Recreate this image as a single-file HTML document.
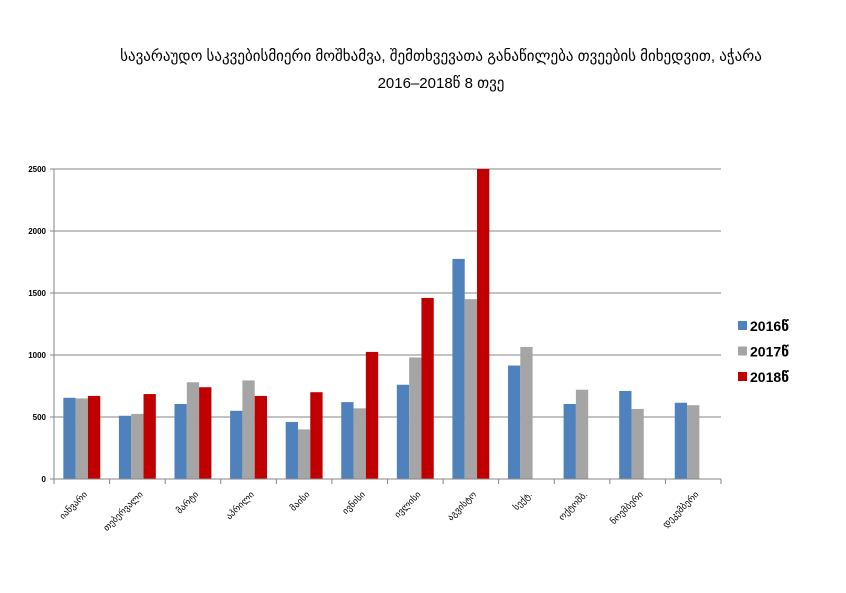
<!DOCTYPE html>
<html><head><meta charset="utf-8">
<style>
body{margin:0;background:#fff;}
svg text{font-family:"Liberation Sans","DejaVu Sans",sans-serif;}
</style></head>
<body>
<svg width="846" height="588" viewBox="0 0 846 588" xmlns="http://www.w3.org/2000/svg">
<rect width="846" height="588" fill="#fff"/>
<text x="441" y="61" text-anchor="middle" font-size="15" fill="#000">სავარაუდო  საკვებისმიერი მოშხამვა, შემთხვევათა განაწილება თვეების მიხედვით, აჭარა</text>
<text x="441" y="88" text-anchor="middle" font-size="15" fill="#000">2016–2018წ 8 თვე</text>
<g id="grid"></g>
<g id="bars"></g>
<g id="axes"></g>
<g id="legend"></g>
</svg>
<script>
const categories=["იანვარი","თებერვალი","მარტი","აპრილი","მაისი","ივნისი","ივლისი","აგვისტო","სექტ.","ოქტომბ.","ნოემბერი","დეკემბერი"];
const s2016=[655,510,605,550,460,620,760,1775,915,605,710,615];
const s2017=[650,525,780,795,400,570,980,1450,1065,720,565,595];
const s2018=[670,685,740,670,700,1025,1460,2500,null,null,null,null];
const seriesNames=["2016წ","2017წ","2018წ"];
const yTicks=[0,500,1000,1500,2000,2500];
const NS="http://www.w3.org/2000/svg";
const X0=54,W=667,Y0=479,YT=169,YMAX=2500;
const colors=["#4f81bd","#a5a5a5","#c00000"];
const band=W/categories.length;
const y=v=>Y0-(v/YMAX)*(Y0-YT);
const mk=(t,a,p)=>{const e=document.createElementNS(NS,t);for(const k in a)e.setAttribute(k,a[k]);p.appendChild(e);return e;};
const grid=document.getElementById('grid'),bars=document.getElementById('bars'),axes=document.getElementById('axes'),leg=document.getElementById('legend');
yTicks.forEach(t=>{
 if(t>0){const l=mk('line',{x1:X0,x2:X0+W,y1:y(t),y2:y(t),stroke:'#868686','stroke-width':1},grid);
 
 }
 const tx=mk('text',{x:X0-8,y:y(t)+3,'text-anchor':'end','font-size':8,'font-weight':'bold'},axes);
 tx.textContent=t;
 
 
 mk('line',{x1:X0-4,x2:X0,y1:y(t),y2:y(t),stroke:'#868686'},axes);
});
const series=[s2016,s2017,s2018];
const bw=12.3;
categories.forEach((c,i)=>{
 const gx=X0+i*band+(band-3*bw)/2;
 series.forEach((s,j)=>{
  if(s[i]==null)return;
  const r=mk('rect',{x:gx+j*bw,y:y(s[i]),width:bw,height:Y0-y(s[i]),fill:colors[j]},bars);
  
  
 });
 mk('line',{x1:X0+i*band,x2:X0+i*band,y1:Y0,y2:Y0+5,stroke:'#868686'},axes);
 const cx=X0+i*band+band/2+6;
 const t=mk('text',{x:cx,y:Y0+16,'text-anchor':'end','font-size':9,transform:`rotate(-45 ${cx} ${Y0+16})`},axes);
 t.textContent=c;
 
 
});
mk('line',{x1:X0+W,x2:X0+W,y1:Y0,y2:Y0+5,stroke:'#868686'},axes);
const ax=mk('line',{x1:X0,x2:X0,y1:YT,y2:Y0,stroke:'#868686'},axes);


const bx=mk('line',{x1:X0,x2:X0+W,y1:Y0,y2:Y0,stroke:'#868686'},axes);


seriesNames.forEach((n,j)=>{
 const cy=326+j*25.5;
 const g=mk('g',{},leg);
 
 
 mk('rect',{x:738,y:cy-5,width:9,height:9,fill:colors[j]},g);
 const t=mk('text',{x:750,y:cy+5,'font-size':14,'font-weight':'bold'},g);
 t.textContent=n;
});
</script>
</body></html>
